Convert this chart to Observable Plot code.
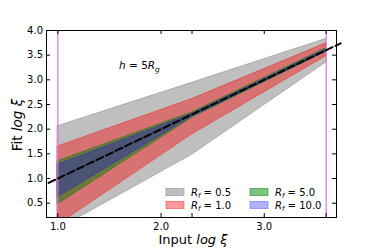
<!DOCTYPE html>
<html><head><meta charset="utf-8">
<script src="https://cdn.jsdelivr.net/npm/d3@7"></script>
<script src="https://cdn.jsdelivr.net/npm/@observablehq/plot@0.6"></script>
<style>body{margin:0;background:#fff} #chart{width:374px;height:249px}</style>
</head><body><div id="chart"></div>
<script>
// Data
const xIn = [1.0, 2.3, 3.6];
const r05Lo = [-0.03, 1.48, 3.35], r05Hi = [2.06, 2.94, 3.83];
const r1Lo  = [0.06, 1.89, 3.48],  r1Hi  = [1.65, 2.61, 3.74];
const r5Lo  = [0.48, 2.23, 3.57],  r5Hi  = [1.35, 2.34, 3.64];
const r10Lo = [0.62, 2.25, 3.58],  r10Hi = [1.28, 2.31, 3.62];
const rfLabels = ["0.5", "1.0", "5.0", "10.0"];
const diag = [0.91, 3.74];
const vLines = [1.0, 3.6];
const xTickPos = [1.0, 2.0, 2.3, 3.0, 3.6];
const xTickLabels = [1.0, 2.0, 3.0];
const yTicks = [0.5, 1.0, 1.5, 2.0, 2.5, 3.0, 3.5, 4.0];

const W = 374, H = 249;
const mT = 30, mR = 38, mB = 32, mL = 46;
const pW = W - mL - mR, pH = H - mT - mB;

const series = [
  {lo: r05Lo, hi: r05Hi, color: "gray", op: 0.5, label: rfLabels[0]},
  {lo: r1Lo,  hi: r1Hi,  color: "red",  op: 0.4, label: rfLabels[1]},
  {lo: r5Lo,  hi: r5Hi,  color: "green", op: 0.5, label: rfLabels[2]},
  {lo: r10Lo, hi: r10Hi, color: "blue", op: 0.3, label: rfLabels[3]}
];

const areas = series.map(s => Plot.areaY(
  xIn.map((x, i) => ({x, lo: s.lo[i], hi: s.hi[i]})),
  {x: "x", y1: "lo", y2: "hi", fill: s.color, fillOpacity: s.op,
   stroke: s.color, strokeOpacity: s.op, strokeWidth: 1, clip: true}
));

const plot = Plot.plot({
  width: W, height: H,
  marginTop: mT, marginRight: mR, marginBottom: mB, marginLeft: mL,
  x: {domain: [0.89, 3.70]},
  y: {domain: [0.21, 4.0]},
  style: {fontFamily: "DejaVu Sans", fontSize: "10px", background: "white", color: "black", overflow: "visible"},
  marks: [
    ...areas,
    Plot.ruleX(vLines, {stroke: "#e070e0", strokeWidth: 1.2}),
    Plot.line(diag.map(d => ({x: d, y: d})), {x: "x", y: "y", stroke: "black", strokeWidth: 2, strokeDasharray: "7.4,3.2"}),
    Plot.frame({stroke: "black", strokeWidth: 1}),
    Plot.ruleX(xTickPos, {insetTop: pH - 4, stroke: "black"}),
    Plot.ruleX(xTickPos, {insetBottom: pH - 4, stroke: "black"}),
    Plot.ruleY(yTicks, {insetRight: pW - 4, stroke: "black"}),
    Plot.ruleY(yTicks, {insetLeft: pW - 4, stroke: "black"}),
    Plot.axisX(xTickLabels, {tickSize: 0, tickPadding: 5, tickFormat: d => d.toFixed(1), label: null}),
    Plot.axisY(yTicks, {tickSize: 0, tickPadding: 3.5, tickFormat: d => d.toFixed(1), label: null})
  ]
});

const svg = d3.select(plot);
const F = "DejaVu Sans";

// axis labels
const xl = svg.append("text").attr("x", 193).attr("y", 244).attr("text-anchor", "middle")
  .attr("font-family", F).attr("font-size", 13).attr("fill", "black");
xl.append("tspan").text("Input ");
xl.append("tspan").attr("font-style", "italic").text("log ξ");

const yl = svg.append("text").attr("transform", "translate(21.5,125) rotate(-90)").attr("text-anchor", "middle")
  .attr("font-family", F).attr("font-size", 13.5).attr("fill", "black");
yl.append("tspan").text("Fit ");
yl.append("tspan").attr("font-style", "italic").text("log ξ");

// annotation h = 5R_g
const ann = svg.append("text").attr("x", 119).attr("y", 69).attr("text-anchor", "start")
  .attr("font-family", F).attr("font-size", 10.5).attr("fill", "black");
ann.append("tspan").attr("font-style", "italic").text("h");
ann.append("tspan").text(" = 5");
ann.append("tspan").attr("font-style", "italic").text("R");
ann.append("tspan").attr("font-style", "italic").attr("font-size", 7.5).attr("dy", 2.5).text("g");

// legend
const leg = [
  {s: series[0], x: 166, y: 192},
  {s: series[1], x: 166, y: 205},
  {s: series[2], x: 250, y: 192},
  {s: series[3], x: 250, y: 205}
];
leg.forEach(({s, x, y}) => {
  svg.append("rect").attr("x", x).attr("y", y - 3.5).attr("width", 18).attr("height", 7)
    .attr("fill", s.color).attr("fill-opacity", s.op).attr("stroke", s.color).attr("stroke-opacity", s.op);
  const t = svg.append("text").attr("x", x + 25).attr("y", y + 3.5).attr("text-anchor", "start")
    .attr("font-family", F).attr("font-size", 10).attr("fill", "black");
  t.append("tspan").attr("font-style", "italic").text("R");
  t.append("tspan").attr("font-style", "italic").attr("font-size", 7).attr("dy", 2).text("f");
  t.append("tspan").attr("dy", -2).text(" = " + s.label);
});

document.getElementById("chart").appendChild(plot);
</script>
</body></html>
